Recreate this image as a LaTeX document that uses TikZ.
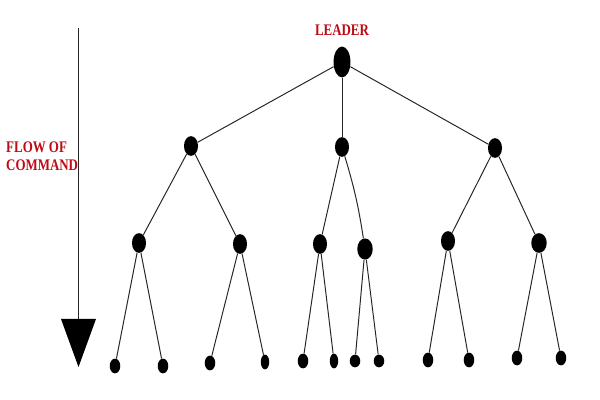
\documentclass[tikz,border=0pt]{standalone}
\usepackage{fontspec}
\setmainfont{Liberation Serif}
\usepackage{tikz}
\usetikzlibrary{shapes.geometric}
\definecolor{cmdred}{RGB}{190,10,20}
\tikzset{
  dot/.style={ellipse,fill=black,inner sep=0pt,minimum width=10pt,minimum height=14pt},
  leaf/.style={ellipse,fill=black,inner sep=0pt,minimum width=7.5pt,minimum height=10.5pt},
  link/.style={line width=0.7pt,black!85},
  redtext/.style={text=cmdred,font=\bfseries\fontsize{11.5}{12.5}\selectfont,xscale=0.8}
}
\begin{document}
\begin{tikzpicture}[x=0.025cm,y=-0.025cm]
    \useasboundingbox (0,0) rectangle (600,400);
    % Leader
    \node[redtext] (leadtext) at (342,30) {LEADER};
    \node[ellipse,fill=black,inner sep=0pt,minimum width=12pt,minimum height=22pt] (lead) at (342,62) {};
    % First level
    \node[dot] (a) at (191,146) {};
    \node[dot] (b) at (342,147) {};
    \node[dot] (c) at (495,148) {};
    % Second level
    \node[dot] (a1) at (139,243) {};
    \node[dot] (a2) at (240,244) {};
    \node[dot] (b1) at (320,244) {};
    \node[dot,minimum width=11pt,minimum height=15pt] (b2) at (365,249) {};
    \node[dot] (c1) at (448,241) {};
    \node[dot,minimum width=11pt] (c2) at (539,243) {};
    % Third level
    \node[leaf] (a11) at (115,366) {};
    \node[leaf] (a12) at (163,366) {};
    \node[leaf] (a21) at (210,363) {};
    \node[leaf,minimum width=6pt] (a22) at (265,362) {};
    \node[leaf] (b11) at (303,361) {};
    \node[leaf,minimum width=6pt] (b12) at (334,361) {};
    \node[leaf,minimum height=9pt] (b21) at (355,361) {};
    \node[leaf,minimum height=9pt] (b22) at (379,361) {};
    \node[leaf] (c11) at (428,360) {};
    \node[leaf] (c12) at (469,360) {};
    \node[leaf] (c21) at (517,358) {};
    \node[leaf] (c22) at (561,358) {};
    % Links
    \foreach \p/\q in {lead/a,lead/b,lead/c,a/a1,a/a2,b/b1,c/c1,c/c2,
                       a1/a11,a1/a12,a2/a21,a2/a22,b1/b11,b1/b12,b2/b21,b2/b22,
                       c1/c11,c1/c12,c2/c21,c2/c22}
        \draw[link] (\p) -- (\q);
    \draw[link] (b) to[bend left=4] (b2);
    % Flow of command
    \coordinate (flowtop) at (78.5,28);
    \coordinate (flowbase) at (78.5,319);
    \draw[line width=0.7pt,black!85] (flowtop) -- (flowbase);
    \fill[black] (61,319) -- (96,319) -- (78.5,367) -- cycle;
    \node[redtext,anchor=west,align=left,inner sep=0pt] (flowtext) at (6,156) {FLOW OF\\COMMAND};
\end{tikzpicture}
\end{document}
